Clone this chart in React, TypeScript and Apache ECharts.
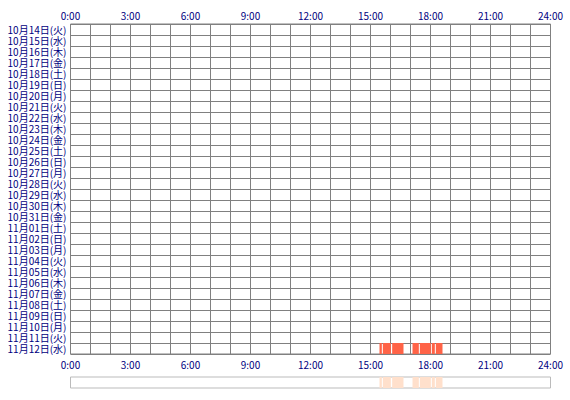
import React, { useEffect, useRef } from "react";
import * as echarts from "echarts";

// one row per day, top to bottom
const days = [
  "10月14日(火)", "10月15日(水)", "10月16日(木)", "10月17日(金)", "10月18日(土)",
  "10月19日(日)", "10月20日(月)", "10月21日(火)", "10月22日(水)", "10月23日(木)",
  "10月24日(金)", "10月25日(土)", "10月26日(日)", "10月27日(月)", "10月28日(火)",
  "10月29日(水)", "10月30日(木)", "10月31日(金)", "11月01日(土)", "11月02日(日)",
  "11月03日(月)", "11月04日(火)", "11月05日(水)", "11月06日(木)", "11月07日(金)",
  "11月08日(土)", "11月09日(日)", "11月10日(月)", "11月11日(火)", "11月12日(水)",
];

// [day index, start minute, end minute]
const sessions: [number, number, number][] = [
  [29, 927, 934],
  [29, 937, 961],
  [29, 965, 999],
  [29, 1026, 1045],
  [29, 1048, 1081],
  [29, 1084, 1093],
  [29, 1096, 1116],
];

const hourLabel = (v: number) => (v % 180 === 0 ? `${v / 60}:00` : "");

const font = "'Noto Sans CJK JP', sans-serif";
const navy = "#000080";
const gridGrey = "#808080";

const App: React.FC = () => {
  const chartRef = useRef<HTMLDivElement>(null);

  useEffect(() => {
    if (!chartRef.current) return;
    const chart = echarts.init(chartRef.current, undefined, { renderer: "svg" });

    const bars = (color: string) => (params: any, api: any) => {
      const p0 = api.coord([api.value(1), api.value(0)]);
      const p1 = api.coord([api.value(2), api.value(0)]);
      const h = api.size([0, 1])[1];
      return {
        type: "rect",
        shape: { x: p0[0], y: p0[1] - h / 2, width: p1[0] - p0[0], height: h },
        style: { fill: color },
      };
    };

    const hourAxis = {
      type: "value" as const,
      min: 0,
      max: 1440,
      interval: 60,
      axisTick: { show: false },
      axisLine: { show: false },
    };

    const option: echarts.EChartsOption = {
      animation: false,
      grid: [
        { left: 70.5, top: 24, width: 480, height: 330, show: true, borderColor: gridGrey, borderWidth: 1 },
        { left: 70.5, top: 377, width: 480, height: 11, show: true, borderColor: "#bbbbbb", borderWidth: 1 },
      ],
      xAxis: [
        {
          ...hourAxis,
          gridIndex: 0,
          position: "top",
          axisLabel: { formatter: hourLabel, color: navy, fontSize: 10, fontFamily: font, margin: 4 },
          splitLine: { show: true, lineStyle: { color: gridGrey, width: 1 } },
        },
        {
          ...hourAxis,
          gridIndex: 0,
          position: "bottom",
          axisLabel: { formatter: hourLabel, color: navy, fontSize: 10, fontFamily: font, margin: 5 },
          splitLine: { show: false },
        },
        {
          ...hourAxis,
          gridIndex: 1,
          axisLabel: { show: false },
          splitLine: { show: false },
        },
      ],
      yAxis: [
        {
          type: "category",
          gridIndex: 0,
          data: days,
          inverse: true,
          axisTick: { show: false },
          axisLine: { show: false },
          axisLabel: {
            interval: 0,
            color: navy,
            fontSize: 10,
            lineHeight: 10,
            fontFamily: font,
            margin: 4,
          },
          splitLine: { show: true, lineStyle: { color: gridGrey, width: 1 } },
        },
        {
          type: "category",
          gridIndex: 1,
          data: [""],
          axisTick: { show: false },
          axisLine: { show: false },
          axisLabel: { show: false },
        },
      ],
      series: [
        {
          type: "custom",
          xAxisIndex: 0,
          yAxisIndex: 0,
          renderItem: bars("#ff6347") as any,
          encode: { x: [1, 2], y: 0 },
          data: sessions,
          z: 1,
        },
        {
          type: "custom",
          xAxisIndex: 2,
          yAxisIndex: 1,
          renderItem: bars("#ffe0cc") as any,
          encode: { x: [1, 2], y: 0 },
          data: sessions.map((s) => [0, s[1], s[2]]),
        },
      ],
    };

    chart.setOption(option);

    return () => {
      chart.dispose();
    };
  }, []);

  return (
    <div
      ref={chartRef}
      style={{ position: "fixed", left: 0, top: 0, width: 570, height: 400, background: "#fff" }}
    />
  );
};

export default App;
